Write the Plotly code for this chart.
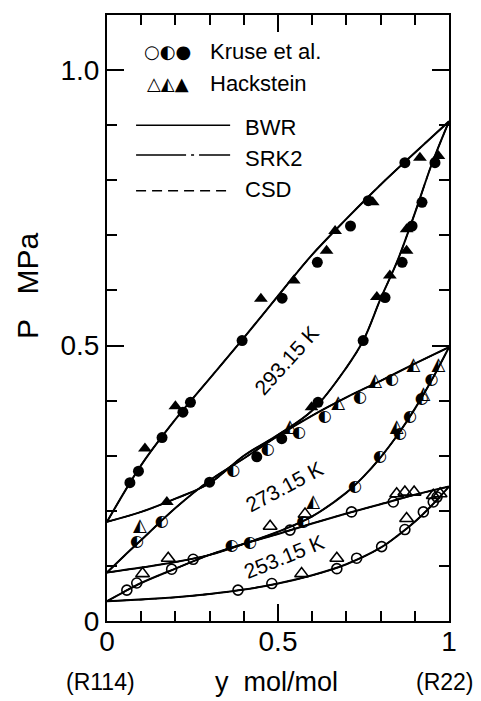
import plotly.graph_objects as go

# ---------------- model curves (BWR, SRK2, CSD practically coincide) ----------------
T293_bub_x = [0, 0.1, 0.2, 0.3, 0.4, 0.5, 0.6, 0.7, 0.8, 0.9, 1.0]
T293_bub_p = [0.18, 0.283, 0.366, 0.44, 0.514, 0.59, 0.665, 0.73, 0.792, 0.85, 0.907]
T293_dew_y = [0, 0.1, 0.2, 0.3, 0.4, 0.5, 0.6, 0.7, 0.75, 0.8, 0.85, 0.9, 0.95, 1.0]
T293_dew_p = [0.18, 0.198, 0.222, 0.25, 0.30, 0.338, 0.382, 0.46, 0.51, 0.585, 0.655, 0.74, 0.83, 0.907]

T273_bub_x = [0, 0.05, 0.1, 0.2, 0.3, 0.4, 0.5, 0.6, 0.7, 0.8, 0.9, 1.0]
T273_bub_p = [0.088, 0.118, 0.147, 0.205, 0.255, 0.295, 0.336, 0.373, 0.406, 0.436, 0.467, 0.497]
T273_dew_y = [0, 0.1, 0.2, 0.3, 0.4, 0.5, 0.6, 0.7, 0.75, 0.8, 0.85, 0.9, 0.95, 1.0]
T273_dew_p = [0.088, 0.097, 0.107, 0.12, 0.14, 0.162, 0.19, 0.233, 0.262, 0.297, 0.338, 0.385, 0.438, 0.497]

T253_bub_x = [0, 0.05, 0.1, 0.2, 0.3, 0.4, 0.5, 0.6, 0.7, 0.8, 0.9, 1.0]
T253_bub_p = [0.036, 0.053, 0.069, 0.095, 0.12, 0.14, 0.158, 0.177, 0.195, 0.212, 0.229, 0.244]
T253_dew_y = [0, 0.1, 0.2, 0.3, 0.4, 0.5, 0.6, 0.7, 0.8, 0.85, 0.9, 0.95, 1.0]
T253_dew_p = [0.036, 0.039, 0.043, 0.049, 0.057, 0.068, 0.083, 0.103, 0.133, 0.155, 0.18, 0.21, 0.244]

# ---------------- experimental data ----------------
# 293.15 K (filled symbols)
kr293_x = [0.067, 0.092, 0.161, 0.222, 0.244, 0.395, 0.512, 0.615, 0.712, 0.764, 0.871,
           0.30, 0.438, 0.511, 0.617, 0.749, 0.813, 0.863, 0.892, 0.921, 0.959]
kr293_p = [0.251, 0.272, 0.333, 0.379, 0.397, 0.509, 0.586, 0.651, 0.717, 0.763, 0.832,
           0.252, 0.298, 0.331, 0.397, 0.509, 0.587, 0.651, 0.717, 0.76, 0.832]
ha293_x = [0.111, 0.2, 0.45, 0.546, 0.642, 0.667, 0.777, 0.915,
           0.175, 0.598, 0.789, 0.827, 0.876, 0.876, 0.969]
ha293_p = [0.313, 0.39, 0.585, 0.618, 0.672, 0.708, 0.76, 0.841,
           0.216, 0.388, 0.588, 0.627, 0.672, 0.711, 0.844]

# 273.15 K (half-filled symbols)
kr273_x = [0.088, 0.16, 0.369, 0.47, 0.561, 0.637, 0.74, 0.833,
           0.365, 0.418, 0.574, 0.725, 0.798, 0.857, 0.886, 0.92, 0.949]
kr273_p = [0.143, 0.18, 0.272, 0.31, 0.341, 0.37, 0.404, 0.437,
           0.136, 0.141, 0.18, 0.243, 0.298, 0.34, 0.37, 0.403, 0.437]
ha273_x = [0.096, 0.535, 0.676, 0.784, 0.896, 0.603, 0.847, 0.925, 0.969]
ha273_p = [0.172, 0.352, 0.394, 0.434, 0.464, 0.216, 0.352, 0.412, 0.464]

# 253.15 K (open symbols)
kr253_x = [0.058, 0.087, 0.189, 0.252, 0.535, 0.715, 0.837,
           0.383, 0.482, 0.672, 0.73, 0.803, 0.871, 0.925, 0.954, 0.965]
kr253_p = [0.056, 0.069, 0.094, 0.112, 0.165, 0.198, 0.216,
           0.056, 0.068, 0.095, 0.114, 0.135, 0.166, 0.198, 0.216, 0.225]
ha253_x = [0.104, 0.179, 0.477, 0.579, 0.847, 0.871, 0.898,
           0.569, 0.672, 0.876, 0.954, 0.974]
ha253_p = [0.086, 0.114, 0.172, 0.194, 0.231, 0.234, 0.234,
           0.086, 0.114, 0.186, 0.228, 0.231]

x_tickvals = [0, 0.5, 1]
x_ticktext = ["0", "0.5", "1"]
y_tickvals = [0, 0.5, 1.0]
y_ticktext = ["0", "0.5", "1.0"]

temp_labels = ["293.15 K", "273.15 K", "253.15 K"]
temp_label_x = [0.525, 0.518, 0.518]
temp_label_p = [0.472, 0.245, 0.117]
temp_label_angle = [-48, -28, -22]

BLACK = "black"
FONT = "Liberation Sans"
SRK_DASH = "50px,5px,3px,5px"
CSD_DASH = "10px,6px"

fig = go.Figure()

curves = [(T293_bub_x, T293_bub_p), (T293_dew_y, T293_dew_p),
          (T273_bub_x, T273_bub_p), (T273_dew_y, T273_dew_p),
          (T253_bub_x, T253_bub_p), (T253_dew_y, T253_dew_p)]
for cx, cp in curves:
    fig.add_trace(go.Scatter(x=cx, y=cp, mode="lines", line=dict(color=BLACK, width=2, shape="spline", smoothing=1.0), showlegend=False, hoverinfo="skip"))
    fig.add_trace(go.Scatter(x=cx, y=cp, mode="lines", line=dict(color=BLACK, width=1.3, dash=SRK_DASH, shape="spline", smoothing=1.0), showlegend=False, hoverinfo="skip"))
    fig.add_trace(go.Scatter(x=cx, y=cp, mode="lines", line=dict(color=BLACK, width=1.3, dash=CSD_DASH, shape="spline", smoothing=1.0), showlegend=False, hoverinfo="skip"))

# filled symbols (293.15 K)
fig.add_trace(go.Scatter(x=kr293_x, y=kr293_p, mode="markers", marker=dict(symbol="circle", size=11, color=BLACK), showlegend=False))
fig.add_trace(go.Scatter(x=ha293_x, y=ha293_p, mode="markers", marker=dict(symbol="triangle-up", size=12, color=BLACK), showlegend=False))
# open symbols (253.15 K)
fig.add_trace(go.Scatter(x=kr253_x, y=kr253_p, mode="markers", marker=dict(symbol="circle-open", size=10, color=BLACK, line=dict(width=1.6, color=BLACK)), showlegend=False))
fig.add_trace(go.Scatter(x=ha253_x, y=ha253_p, mode="markers", marker=dict(symbol="triangle-up-open", size=12, color=BLACK, line=dict(width=1.6, color=BLACK)), showlegend=False))
# half-filled symbols (273.15 K)
fig.add_trace(go.Scatter(x=kr273_x, y=kr273_p, mode="text", text=["\u25D0"] * len(kr273_x), textposition="middle center",
                         textfont=dict(family="DejaVu Sans", size=16, color=BLACK), showlegend=False))
fig.add_trace(go.Scatter(x=ha273_x, y=ha273_p, mode="text", text=["\u25ED"] * len(ha273_x), textposition="middle center",
                         textfont=dict(family="DejaVu Sans", size=18, color=BLACK), showlegend=False))

annotations = []
for t, tx, tp, ang in zip(temp_labels, temp_label_x, temp_label_p, temp_label_angle):
    annotations.append(dict(x=tx, y=tp, xref="x", yref="y", text=t, showarrow=False, textangle=ang,
                            font=dict(family=FONT, size=21, color=BLACK)))

# legend (drawn as annotations / shapes)
annotations += [
    dict(x=0.178, y=1.033, xref="x", yref="y", text="\u25CB\u25D0\u25CF", showarrow=False,
         xanchor="center", yanchor="middle", font=dict(family="DejaVu Sans", size=18, color=BLACK)),
    dict(x=0.295, y=1.033, xref="x", yref="y", text="Kruse et al.", showarrow=False, xanchor="left",
         yanchor="middle", font=dict(family=FONT, size=22, color=BLACK)),
    dict(x=0.178, y=0.976, xref="x", yref="y", text="\u25B3\u25ED\u25B2", showarrow=False,
         xanchor="center", yanchor="middle", font=dict(family="DejaVu Sans", size=18, color=BLACK)),
    dict(x=0.295, y=0.976, xref="x", yref="y", text="Hackstein", showarrow=False, xanchor="left",
         yanchor="middle", font=dict(family=FONT, size=22, color=BLACK)),
    dict(x=0.398, y=0.895, xref="x", yref="y", text="BWR", showarrow=False, xanchor="left",
         yanchor="middle", font=dict(family=FONT, size=22, color=BLACK)),
    dict(x=0.398, y=0.84, xref="x", yref="y", text="SRK2", showarrow=False, xanchor="left",
         yanchor="middle", font=dict(family=FONT, size=22, color=BLACK)),
    dict(x=0.398, y=0.784, xref="x", yref="y", text="CSD", showarrow=False, xanchor="left",
         yanchor="middle", font=dict(family=FONT, size=22, color=BLACK)),
    # axis titles (paper coordinates)
    dict(x=-0.231, y=0.553, xref="paper", yref="paper", text="P   MPa", showarrow=False, textangle=-90,
         xanchor="center", yanchor="middle", font=dict(family=FONT, size=30, color=BLACK)),
    dict(x=-0.02, y=-0.100, xref="paper", yref="paper", text="(R114)", showarrow=False,
         xanchor="center", yanchor="middle", font=dict(family=FONT, size=23, color=BLACK)),
    dict(x=0.497, y=-0.100, xref="paper", yref="paper", text="y  mol/mol", showarrow=False,
         xanchor="center", yanchor="middle", font=dict(family=FONT, size=27, color=BLACK)),
    dict(x=0.988, y=-0.100, xref="paper", yref="paper", text="(R22)", showarrow=False,
         xanchor="center", yanchor="middle", font=dict(family=FONT, size=23, color=BLACK)),
]

shapes = [
    dict(type="line", xref="x", yref="y", x0=0.085, x1=0.36, y0=0.90, y1=0.90, line=dict(color=BLACK, width=1.5)),
    dict(type="line", xref="x", yref="y", x0=0.085, x1=0.36, y0=0.846, y1=0.846, line=dict(color=BLACK, width=1.5, dash=SRK_DASH)),
    dict(type="line", xref="x", yref="y", x0=0.085, x1=0.36, y0=0.781, y1=0.781, line=dict(color=BLACK, width=1.5, dash=CSD_DASH)),
]

axis_common = dict(showgrid=False, zeroline=False, showline=True, linecolor=BLACK, linewidth=2,
                   mirror="ticks", ticks="inside", ticklen=17, tickwidth=2, tickcolor=BLACK,
                   tickfont=dict(family=FONT, size=28, color=BLACK),
                   minor=dict(ticks="inside", ticklen=10, tickwidth=1.5, tickcolor=BLACK,
                              tickmode="linear", tick0=0, dtick=0.1, showgrid=False))

# the page body has an 8 px margin, so the figure is offset by 8 px inside the window
fig.update_layout(
    width=465, height=693,
    margin=dict(l=99, r=24, t=5, b=80),
    paper_bgcolor="white", plot_bgcolor="white",
    showlegend=False,
    xaxis=dict(range=[0, 1], tickmode="array", tickvals=x_tickvals, ticktext=x_ticktext, **axis_common),
    yaxis=dict(range=[0, 1.1], tickmode="array", tickvals=y_tickvals, ticktext=y_ticktext, **axis_common),
    annotations=annotations,
    shapes=shapes,
)

try:
    fig.update_xaxes(ticklabelstandoff=-6)
except Exception:
    pass

fig.write_html("out.html")
